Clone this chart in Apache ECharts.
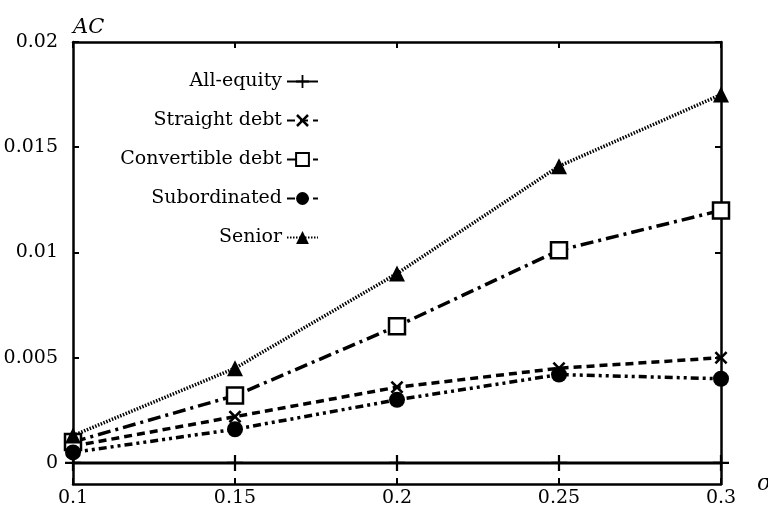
<!DOCTYPE html>
<html>
<head>
<meta charset="utf-8">
<script src="https://cdn.jsdelivr.net/npm/echarts@6/dist/echarts.min.js"></script>
<style>
  html, body { margin: 0; padding: 0; background: #fff; }
  #chart { width: 768px; height: 507px; }
</style>
</head>
<body>
<div id="chart"></div>
<script>
// Agency cost AC against volatility sigma for each financing choice
const sigma = [0.1, 0.15, 0.2, 0.25, 0.3];
const allEquity = [0, 0, 0, 0, 0];
const straightDebt = [0.0008, 0.0022, 0.0036, 0.0045, 0.0050];
const convertibleDebt = [0.0010, 0.0032, 0.0065, 0.0101, 0.0120];
const subordinated = [0.0005, 0.0016, 0.0030, 0.0042, 0.0040];
const senior = [0.0013, 0.0045, 0.0090, 0.0141, 0.0175];
const yTicks = [0, 0.005, 0.01, 0.015, 0.02];

const FONT = '"DejaVu Serif", "Liberation Serif", serif';
const INK = '#000';

const plusPath = 'path://M-0.14,-1H0.14V-0.14H1V0.14H0.14V1H-0.14V0.14H-1V-0.14H-0.14Z';
const crossPath = 'path://M-1,-0.72L-0.72,-1L0,-0.28L0.72,-1L1,-0.72L0.28,0L1,0.72L0.72,1L0,0.28L-0.72,1L-1,0.72L-0.28,0Z';

function pairs(ys) { return sigma.map((x, i) => [x, ys[i]]); }

const frameLine = { show: true, onZero: false, lineStyle: { color: INK, width: 2.5 } };
const innerTick = { show: true, inside: true, length: 6, lineStyle: { color: INK, width: 2 } };

const chart = echarts.init(document.getElementById('chart'), null, { renderer: 'canvas' });

chart.setOption({
  animation: false,
  backgroundColor: '#fff',
  textStyle: { fontFamily: FONT, color: INK },
  grid: { left: 73, right: 47, top: 42, bottom: 23, containLabel: false, outerBoundsMode: 'none' },
  legend: {
    orient: 'vertical',
    align: 'right',
    right: 444,
    top: 67,
    itemWidth: 31,
    itemHeight: 16,
    itemGap: 20,
    textStyle: { fontFamily: FONT, fontSize: 19, color: INK },
    data: ['All-equity', 'Straight debt', 'Convertible debt', 'Subordinated', 'Senior']
  },
  xAxis: [
    {
      type: 'value', position: 'bottom',
      min: 0.1, max: 0.3, interval: 0.05,
      axisLine: frameLine, axisTick: innerTick, splitLine: { show: false },
      axisLabel: { fontFamily: FONT, fontSize: 19, color: INK, margin: 5 },
      name: 'σ', nameLocation: 'end', nameGap: 36,
      nameTextStyle: { fontFamily: FONT, fontSize: 22, fontStyle: 'italic', color: INK, verticalAlign: 'middle', padding: [6, 0, 0, 0] }
    },
    {
      type: 'value', position: 'top',
      min: 0.1, max: 0.3, interval: 0.05,
      axisLine: frameLine, axisTick: innerTick, axisLabel: { show: false }, splitLine: { show: false }
    }
  ],
  yAxis: [
    {
      type: 'value', position: 'left',
      min: -0.001, max: 0.02,
      axisLine: frameLine,
      axisTick: Object.assign({}, innerTick, { customValues: yTicks }),
      axisLabel: { fontFamily: FONT, fontSize: 19, color: INK, margin: 15, customValues: yTicks },
      splitLine: { show: false },
      name: 'AC', nameLocation: 'end', nameGap: 4,
      nameTextStyle: { fontFamily: FONT, fontSize: 21, fontStyle: 'italic', color: INK, align: 'left', verticalAlign: 'bottom' }
    },
    {
      type: 'value', position: 'right',
      min: -0.001, max: 0.02,
      axisLine: frameLine,
      axisTick: Object.assign({}, innerTick, { customValues: yTicks }),
      axisLabel: { show: false }, splitLine: { show: false }
    }
  ],
  series: [
    {
      name: 'All-equity', type: 'line', data: pairs(allEquity),
      symbol: plusPath, symbolSize: 16,
      itemStyle: { color: INK },
      lineStyle: { color: INK, width: 3, type: 'solid' }
    },
    {
      name: 'Straight debt', type: 'line', data: pairs(straightDebt),
      symbol: crossPath, symbolSize: 13,
      itemStyle: { color: INK },
      lineStyle: { color: INK, width: 3.5, type: [8, 5] }
    },
    {
      name: 'Convertible debt', type: 'line', data: pairs(convertibleDebt),
      symbol: 'rect', symbolSize: 16,
      itemStyle: { color: '#fff', borderColor: INK, borderWidth: 2.5 },
      lineStyle: { color: INK, width: 3.5, type: [13, 5, 3, 5] }
    },
    {
      name: 'Subordinated', type: 'line', data: pairs(subordinated),
      symbol: 'circle', symbolSize: 16,
      itemStyle: { color: INK },
      lineStyle: { color: INK, width: 3.5, type: [8, 4, 3, 4, 3, 4] }
    },
    {
      name: 'Senior', type: 'line', data: pairs(senior),
      symbol: 'triangle', symbolSize: 16,
      itemStyle: { color: INK },
      lineStyle: { color: INK, width: 3.5, type: [1.5, 1.5] }
    }
  ]
});
</script>
</body>
</html>
